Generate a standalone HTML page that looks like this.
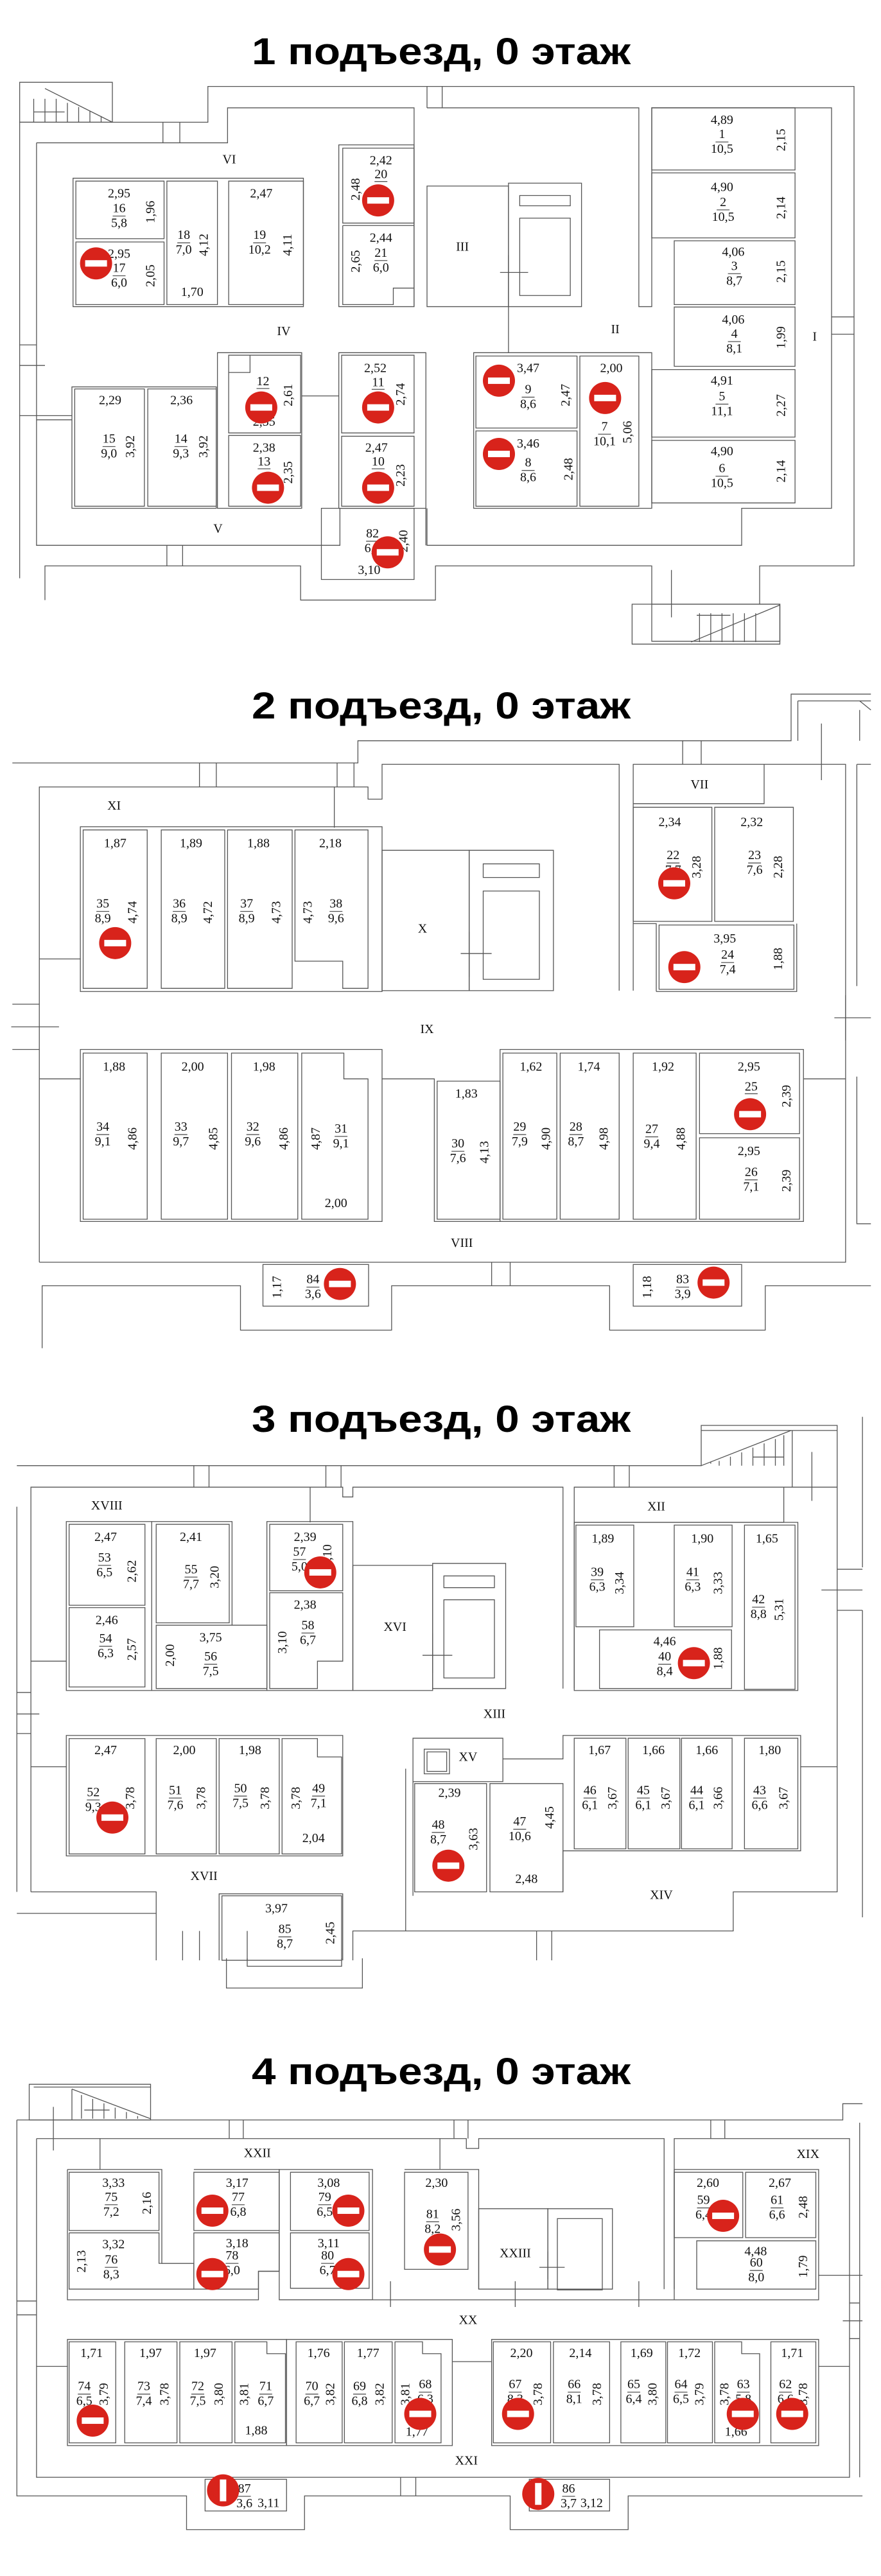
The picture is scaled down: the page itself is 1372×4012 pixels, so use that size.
<!DOCTYPE html>
<html><head><meta charset="utf-8">
<style>
html,body{margin:0;padding:0;background:#fff;}
svg{display:block;}
svg text{font-family:"Liberation Serif",serif;font-size:20px;text-anchor:middle;dominant-baseline:central;fill:#111;}
svg text.t{font-family:"Liberation Sans","DejaVu Sans",sans-serif;font-weight:bold;font-size:58px;dominant-baseline:auto;fill:#000;}
svg text.r{font-size:21px;}
path,rect,polyline{fill:none;stroke:#555;stroke-width:1.3;vector-effect:non-scaling-stroke;}
rect.wb{fill:#fff;stroke:none;}
circle.rd{fill:#d8231b;stroke:none;}
</style></head><body>
<svg width="1372" height="4012" viewBox="0 0 1372 4012" xmlns="http://www.w3.org/2000/svg">
<defs>
<g id="ns"><circle class="rd" r="25"/><rect class="wb" x="-17" y="-5" width="34" height="10"/></g>
</defs>

<text class="t" x="687" y="100" textLength="590" lengthAdjust="spacingAndGlyphs">1 подъезд, 0 этаж</text>
<text class="t" x="687" y="1119" textLength="590" lengthAdjust="spacingAndGlyphs">2 подъезд, 0 этаж</text>
<text class="t" x="687" y="2230" textLength="590" lengthAdjust="spacingAndGlyphs">3 подъезд, 0 этаж</text>
<text class="t" x="687" y="3246" textLength="590" lengthAdjust="spacingAndGlyphs">4 подъезд, 0 этаж</text>

<!-- SECTION 1 -->
<g transform="translate(0,0) scale(0.875,0.641)">
<path d="M35,297 H370 V210 H1520 V1375 H1352 V1468"/>
<path d="M35,297 V1405"/>
<path d="M80,1458 V1375 H535 V1458 H775 V1375 H1160 V1468"/>
<rect x="35" y="200" width="165" height="97"/>
<path d="M80,215 L200,297 M60,240 V297 M80,240 V297 M100,240 V297 M120,250 V297 M140,260 V297 M160,270 V297 M180,282 V297 M60,272 H115"/>
<rect x="1125" y="1468" width="263" height="97"/>
<rect x="1160" y="1468" width="228" height="90"/>
<path d="M1230,1560 L1388,1470 M1245,1490 V1560 M1265,1490 V1560 M1285,1490 V1560 M1305,1490 V1560 M1325,1490 V1560 M1345,1490 V1560 M1240,1495 H1300 M1195,1385 V1500"/>
<path d="M65,347 H405 V262 H737 V745"/>
<path d="M760,262 H1137 V745 H1160 V262 H1480 V1235 H1320 V1325 H760 V1235"/>
<path d="M605,1235 V1325 H65 V347"/>
<path d="M290,297 V347 M320,297 V347 M760,210 V262 M787,210 V262 M297,1325 V1375 M325,1325 V1375 M1480,770 H1520 M1480,812 H1520 M35,838 H65 M35,888 H80 M35,1010 H128 M65,1020 H128"/>
<rect x="130" y="433" width="410" height="312"/>
<rect x="135" y="440" width="157" height="140"/>
<rect x="135" y="588" width="157" height="152"/>
<rect x="297" y="440" width="90" height="300"/>
<rect x="407" y="440" width="133" height="300"/>
<rect x="603" y="352" width="134" height="393"/>
<rect x="610" y="360" width="127" height="182"/>
<path d="M610,548 H737 M610,548 V740 H700 V700 H737"/>
<rect x="760" y="452" width="145" height="293"/>
<rect x="905" y="445" width="130" height="300"/>
<rect x="925" y="475" width="90" height="25"/>
<rect x="925" y="530" width="90" height="188"/>
<path d="M890,662 H940 M905,620 V745 M905,745 V857"/>
<rect x="1160" y="262" width="255" height="151"/>
<rect x="1160" y="420" width="255" height="158"/>
<rect x="1200" y="585" width="215" height="155"/>
<rect x="1200" y="746" width="215" height="144"/>
<rect x="1160" y="898" width="255" height="164"/>
<rect x="1160" y="1070" width="255" height="152"/>
<rect x="843" y="857" width="317" height="378"/>
<rect x="847" y="865" width="180" height="175"/>
<rect x="847" y="1047" width="180" height="183"/>
<rect x="1032" y="865" width="105" height="365"/>
<rect x="128" y="940" width="257" height="295"/>
<rect x="133" y="945" width="124" height="285"/>
<rect x="263" y="945" width="122" height="285"/>
<rect x="387" y="857" width="150" height="378"/>
<rect x="407" y="863" width="128" height="189"/>
<rect x="407" y="1058" width="128" height="172"/>
<path d="M407,905 H445 V863"/>
<rect x="603" y="857" width="155" height="378"/>
<rect x="608" y="863" width="129" height="189"/>
<rect x="608" y="1060" width="129" height="170"/>
<path d="M537,962 H603 M758,1235 V1325"/>
<rect x="572" y="1235" width="165" height="173"/>

<text transform="translate(408,388) scale(1.143,1.56)">VI</text>
<text transform="translate(505,805) scale(1.143,1.56)">IV</text>
<text transform="translate(388,1285) scale(1.143,1.56)">V</text>
<text transform="translate(823,600) scale(1.143,1.56)">III</text>
<text transform="translate(1095,800) scale(1.143,1.56)">II</text>
<text transform="translate(1450,818) scale(1.143,1.56)">I</text>

<text transform="translate(212,470) scale(1.143,1.56)">2,95</text>
<g transform="translate(212,525) scale(1.143,1.56)"><text y="-12">16</text><path d="M-10,0H10"/><text y="11">5,8</text></g>
<text transform="translate(268,515) scale(1.143,1.56) rotate(-90)">1,96</text>
<text transform="translate(212,617) scale(1.143,1.56)">2,95</text>
<g transform="translate(212,670) scale(1.143,1.56)"><text y="-12">17</text><path d="M-10,0H10"/><text y="11">6,0</text></g>
<text transform="translate(268,670) scale(1.143,1.56) rotate(-90)">2,05</text>
<g transform="translate(327,590) scale(1.143,1.56)"><text y="-12">18</text><path d="M-10,0H10"/><text y="11">7,0</text></g>
<text transform="translate(363,595) scale(1.143,1.56) rotate(-90)">4,12</text>
<text transform="translate(342,710) scale(1.143,1.56)">1,70</text>
<text transform="translate(465,470) scale(1.143,1.56)">2,47</text>
<g transform="translate(462,590) scale(1.143,1.56)"><text y="-12">19</text><path d="M-10,0H10"/><text y="11">10,2</text></g>
<text transform="translate(512,595) scale(1.143,1.56) rotate(-90)">4,11</text>
<text transform="translate(678,390) scale(1.143,1.56)">2,42</text>
<g transform="translate(678,427) scale(1.143,1.56)"><text y="-2">20</text><path d="M-10,9H10"/></g>
<text transform="translate(633,460) scale(1.143,1.56) rotate(-90)">2,48</text>
<text transform="translate(678,578) scale(1.143,1.56)">2,44</text>
<g transform="translate(678,633) scale(1.143,1.56)"><text y="-12">21</text><path d="M-10,0H10"/><text y="11">6,0</text></g>
<text transform="translate(633,635) scale(1.143,1.56) rotate(-90)">2,65</text>

<text transform="translate(1285,292) scale(1.143,1.56)">4,89</text>
<g transform="translate(1285,345) scale(1.143,1.56)"><text y="-12">1</text><path d="M-10,0H10"/><text y="11">10,5</text></g>
<text transform="translate(1390,340) scale(1.143,1.56) rotate(-90)">2,15</text>
<text transform="translate(1285,455) scale(1.143,1.56)">4,90</text>
<g transform="translate(1287,510) scale(1.143,1.56)"><text y="-12">2</text><path d="M-10,0H10"/><text y="11">10,5</text></g>
<text transform="translate(1390,505) scale(1.143,1.56) rotate(-90)">2,14</text>
<text transform="translate(1305,612) scale(1.143,1.56)">4,06</text>
<g transform="translate(1307,665) scale(1.143,1.56)"><text y="-12">3</text><path d="M-10,0H10"/><text y="11">8,7</text></g>
<text transform="translate(1390,660) scale(1.143,1.56) rotate(-90)">2,15</text>
<text transform="translate(1305,777) scale(1.143,1.56)">4,06</text>
<g transform="translate(1307,830) scale(1.143,1.56)"><text y="-12">4</text><path d="M-10,0H10"/><text y="11">8,1</text></g>
<text transform="translate(1390,820) scale(1.143,1.56) rotate(-90)">1,99</text>
<text transform="translate(1285,925) scale(1.143,1.56)">4,91</text>
<g transform="translate(1285,982) scale(1.143,1.56)"><text y="-12">5</text><path d="M-10,0H10"/><text y="11">11,1</text></g>
<text transform="translate(1390,985) scale(1.143,1.56) rotate(-90)">2,27</text>
<text transform="translate(1285,1097) scale(1.143,1.56)">4,90</text>
<g transform="translate(1285,1157) scale(1.143,1.56)"><text y="-12">6</text><path d="M-10,0H10"/><text y="11">10,5</text></g>
<text transform="translate(1390,1145) scale(1.143,1.56) rotate(-90)">2,14</text>

<text transform="translate(940,895) scale(1.143,1.56)">3,47</text>
<g transform="translate(940,965) scale(1.143,1.56)"><text y="-12">9</text><path d="M-10,0H10"/><text y="11">8,6</text></g>
<text transform="translate(1007,960) scale(1.143,1.56) rotate(-90)">2,47</text>
<text transform="translate(940,1078) scale(1.143,1.56)">3,46</text>
<g transform="translate(940,1143) scale(1.143,1.56)"><text y="-12">8</text><path d="M-10,0H10"/><text y="11">8,6</text></g>
<text transform="translate(1012,1140) scale(1.143,1.56) rotate(-90)">2,48</text>
<text transform="translate(1088,895) scale(1.143,1.56)">2,00</text>
<g transform="translate(1076,1055) scale(1.143,1.56)"><text y="-12">7</text><path d="M-10,0H10"/><text y="11">10,1</text></g>
<text transform="translate(1117,1050) scale(1.143,1.56) rotate(-90)">5,06</text>

<text transform="translate(196,973) scale(1.143,1.56)">2,29</text>
<g transform="translate(194,1085) scale(1.143,1.56)"><text y="-12">15</text><path d="M-10,0H10"/><text y="11">9,0</text></g>
<text transform="translate(232,1085) scale(1.143,1.56) rotate(-90)">3,92</text>
<text transform="translate(323,973) scale(1.143,1.56)">2,36</text>
<g transform="translate(322,1085) scale(1.143,1.56)"><text y="-12">14</text><path d="M-10,0H10"/><text y="11">9,3</text></g>
<text transform="translate(362,1085) scale(1.143,1.56) rotate(-90)">3,92</text>
<g transform="translate(468,930) scale(1.143,1.56)"><text y="-2">12</text><path d="M-10,9H10"/></g>
<text transform="translate(513,960) scale(1.143,1.56) rotate(-90)">2,61</text>
<text transform="translate(470,1025) scale(1.143,1.56)">2,35</text>
<text transform="translate(470,1088) scale(1.143,1.56)">2,38</text>
<g transform="translate(470,1125) scale(1.143,1.56)"><text y="-2">13</text><path d="M-10,9H10"/></g>
<text transform="translate(513,1148) scale(1.143,1.56) rotate(-90)">2,35</text>
<text transform="translate(668,895) scale(1.143,1.56)">2,52</text>
<g transform="translate(673,932) scale(1.143,1.56)"><text y="-2">11</text><path d="M-10,9H10"/></g>
<text transform="translate(713,958) scale(1.143,1.56) rotate(-90)">2,74</text>
<text transform="translate(670,1088) scale(1.143,1.56)">2,47</text>
<g transform="translate(673,1125) scale(1.143,1.56)"><text y="-2">10</text><path d="M-10,9H10"/></g>
<text transform="translate(713,1155) scale(1.143,1.56) rotate(-90)">2,23</text>
<g transform="translate(663,1315) scale(1.143,1.56)"><text y="-12">82</text><path d="M-10,0H10"/><text y="11">6,0</text></g>
<text transform="translate(657,1385) scale(1.143,1.56)">3,10</text>
<text transform="translate(718,1315) scale(1.143,1.56) rotate(-90)">2,40</text>

<use href="#ns" transform="translate(673,487) scale(1.143,1.56)"/>
<use href="#ns" transform="translate(171,640) scale(1.143,1.56)"/>
<use href="#ns" transform="translate(465,990) scale(1.143,1.56)"/>
<use href="#ns" transform="translate(673,990) scale(1.143,1.56)"/>
<use href="#ns" transform="translate(477,1185) scale(1.143,1.56)"/>
<use href="#ns" transform="translate(673,1185) scale(1.143,1.56)"/>
<use href="#ns" transform="translate(888,925) scale(1.143,1.56)"/>
<use href="#ns" transform="translate(888,1103) scale(1.143,1.56)"/>
<use href="#ns" transform="translate(1077,967) scale(1.143,1.56)"/>
<use href="#ns" transform="translate(690,1342) scale(1.143,1.56)"/>
</g>

<!-- SECTION 2 -->
<g transform="translate(0,1000) scale(0.875,0.705)">
<path d="M22,267 H637 V218 H1408 V115 H1550"/>
<path d="M1420,130 H1550 M1420,130 V218 M1530,130 L1550,150 M1530,150 V218 M1462,180 V305"/>
<path d="M70,1370 V320 H655 V347 H680 V270 H1102 V770"/>
<path d="M1127,770 V270 H1505 V1370 H70"/>
<path d="M1525,270 V760 M1525,960 V1285 H1550 M1525,270 H1550"/>
<path d="M75,1560 V1422 H428 V1520 H697 V1422 H1085 V1520 H1362 V1422 H1550"/>
<path d="M595,320 V410 M355,267 V320 M385,267 V320 M600,267 V320 M630,267 V320 M1215,218 V270 M1248,218 V270 M875,1370 V1422 M908,1370 V1422 M22,800 H70 M22,900 H70 M20,850 H105 M70,700 H143 M70,965 H143 M1505,780 V880 M1485,830 H1550 M1430,965 H1505"/>
<path d="M1127,357 H1360 V270 M1360,290 V357"/>
<rect x="143" y="408" width="537" height="364"/>
<rect x="148" y="415" width="114" height="350"/>
<rect x="287" y="415" width="113" height="350"/>
<rect x="405" y="415" width="115" height="350"/>
<path d="M525,415 H655 V765 H610 V705 H525 Z"/>
<rect x="680" y="460" width="155" height="310"/>
<rect x="835" y="460" width="150" height="310"/>
<rect x="860" y="490" width="100" height="30"/>
<rect x="860" y="550" width="100" height="195"/>
<path d="M820,688 H875 M835,640 V740"/>
<rect x="1127" y="365" width="140" height="252"/>
<rect x="1272" y="365" width="140" height="252"/>
<path d="M1127,622 H1168 V772 M1168,772 H1418 V622"/>
<rect x="1173" y="625" width="240" height="142"/>
<rect x="143" y="900" width="537" height="380"/>
<rect x="148" y="908" width="114" height="367"/>
<rect x="287" y="908" width="118" height="367"/>
<rect x="412" y="908" width="118" height="367"/>
<path d="M537,908 H612 V965 H655 V1275 H537 Z"/>
<path d="M680,965 H773 V1280 H890 V900 H1430 V1280 H890"/>
<rect x="778" y="970" width="112" height="305"/>
<rect x="895" y="908" width="96" height="367"/>
<rect x="997" y="908" width="105" height="367"/>
<rect x="1127" y="908" width="112" height="367"/>
<rect x="1245" y="908" width="178" height="178"/>
<rect x="1245" y="1095" width="178" height="180"/>
<rect x="468" y="1375" width="188" height="92"/>
<rect x="1127" y="1375" width="193" height="92"/>

<text transform="translate(203,362) scale(1.143,1.418)">XI</text>
<text transform="translate(752,633) scale(1.143,1.418)">X</text>
<text transform="translate(1245,315) scale(1.143,1.418)">VII</text>
<text transform="translate(760,855) scale(1.143,1.418)">IX</text>
<text transform="translate(822,1328) scale(1.143,1.418)">VIII</text>

<text transform="translate(205,445) scale(1.143,1.418)">1,87</text>
<g transform="translate(183,595) scale(1.143,1.418)"><text y="-12">35</text><path d="M-10,0H10"/><text y="11">8,9</text></g>
<text transform="translate(236,597) scale(1.143,1.418) rotate(-90)">4,74</text>
<text transform="translate(340,445) scale(1.143,1.418)">1,89</text>
<g transform="translate(319,595) scale(1.143,1.418)"><text y="-12">36</text><path d="M-10,0H10"/><text y="11">8,9</text></g>
<text transform="translate(370,597) scale(1.143,1.418) rotate(-90)">4,72</text>
<text transform="translate(460,445) scale(1.143,1.418)">1,88</text>
<g transform="translate(439,595) scale(1.143,1.418)"><text y="-12">37</text><path d="M-10,0H10"/><text y="11">8,9</text></g>
<text transform="translate(492,597) scale(1.143,1.418) rotate(-90)">4,73</text>
<text transform="translate(588,445) scale(1.143,1.418)">2,18</text>
<text transform="translate(548,597) scale(1.143,1.418) rotate(-90)">4,73</text>
<g transform="translate(598,595) scale(1.143,1.418)"><text y="-12">38</text><path d="M-10,0H10"/><text y="11">9,6</text></g>
<text transform="translate(1192,398) scale(1.143,1.418)">2,34</text>
<g transform="translate(1198,488) scale(1.143,1.418)"><text y="-12">22</text><path d="M-10,0H10"/><text y="11">7,7</text></g>
<text transform="translate(1240,497) scale(1.143,1.418) rotate(-90)">3,28</text>
<text transform="translate(1338,398) scale(1.143,1.418)">2,32</text>
<g transform="translate(1343,488) scale(1.143,1.418)"><text y="-12">23</text><path d="M-10,0H10"/><text y="11">7,6</text></g>
<text transform="translate(1385,497) scale(1.143,1.418) rotate(-90)">2,28</text>
<text transform="translate(1290,655) scale(1.143,1.418)">3,95</text>
<g transform="translate(1295,708) scale(1.143,1.418)"><text y="-12">24</text><path d="M-10,0H10"/><text y="11">7,4</text></g>
<text transform="translate(1385,700) scale(1.143,1.418) rotate(-90)">1,88</text>

<text transform="translate(203,938) scale(1.143,1.418)">1,88</text>
<g transform="translate(183,1088) scale(1.143,1.418)"><text y="-12">34</text><path d="M-10,0H10"/><text y="11">9,1</text></g>
<text transform="translate(236,1097) scale(1.143,1.418) rotate(-90)">4,86</text>
<text transform="translate(343,938) scale(1.143,1.418)">2,00</text>
<g transform="translate(322,1088) scale(1.143,1.418)"><text y="-12">33</text><path d="M-10,0H10"/><text y="11">9,7</text></g>
<text transform="translate(380,1097) scale(1.143,1.418) rotate(-90)">4,85</text>
<text transform="translate(470,938) scale(1.143,1.418)">1,98</text>
<g transform="translate(450,1088) scale(1.143,1.418)"><text y="-12">32</text><path d="M-10,0H10"/><text y="11">9,6</text></g>
<text transform="translate(505,1097) scale(1.143,1.418) rotate(-90)">4,86</text>
<text transform="translate(562,1097) scale(1.143,1.418) rotate(-90)">4,87</text>
<g transform="translate(607,1092) scale(1.143,1.418)"><text y="-12">31</text><path d="M-10,0H10"/><text y="11">9,1</text></g>
<text transform="translate(598,1240) scale(1.143,1.418)">2,00</text>
<text transform="translate(830,998) scale(1.143,1.418)">1,83</text>
<g transform="translate(815,1125) scale(1.143,1.418)"><text y="-12">30</text><path d="M-10,0H10"/><text y="11">7,6</text></g>
<text transform="translate(862,1127) scale(1.143,1.418) rotate(-90)">4,13</text>
<text transform="translate(945,938) scale(1.143,1.418)">1,62</text>
<g transform="translate(925,1088) scale(1.143,1.418)"><text y="-12">29</text><path d="M-10,0H10"/><text y="11">7,9</text></g>
<text transform="translate(972,1097) scale(1.143,1.418) rotate(-90)">4,90</text>
<text transform="translate(1048,938) scale(1.143,1.418)">1,74</text>
<g transform="translate(1025,1088) scale(1.143,1.418)"><text y="-12">28</text><path d="M-10,0H10"/><text y="11">8,7</text></g>
<text transform="translate(1075,1097) scale(1.143,1.418) rotate(-90)">4,98</text>
<text transform="translate(1180,938) scale(1.143,1.418)">1,92</text>
<g transform="translate(1160,1093) scale(1.143,1.418)"><text y="-12">27</text><path d="M-10,0H10"/><text y="11">9,4</text></g>
<text transform="translate(1212,1097) scale(1.143,1.418) rotate(-90)">4,88</text>
<text transform="translate(1333,938) scale(1.143,1.418)">2,95</text>
<g transform="translate(1337,985) scale(1.143,1.418)"><text y="-2">25</text><path d="M-10,9H10"/></g>
<text transform="translate(1400,1003) scale(1.143,1.418) rotate(-90)">2,39</text>
<text transform="translate(1333,1125) scale(1.143,1.418)">2,95</text>
<g transform="translate(1337,1188) scale(1.143,1.418)"><text y="-12">26</text><path d="M-10,0H10"/><text y="11">7,1</text></g>
<text transform="translate(1400,1190) scale(1.143,1.418) rotate(-90)">2,39</text>
<text transform="translate(493,1425) scale(1.143,1.418) rotate(-90)">1,17</text>
<g transform="translate(557,1425) scale(1.143,1.418)"><text y="-12">84</text><path d="M-10,0H10"/><text y="11">3,6</text></g>
<text transform="translate(1152,1425) scale(1.143,1.418) rotate(-90)">1,18</text>
<g transform="translate(1215,1425) scale(1.143,1.418)"><text y="-12">83</text><path d="M-10,0H10"/><text y="11">3,9</text></g>

<use href="#ns" transform="translate(205,665) scale(1.143,1.418)"/>
<use href="#ns" transform="translate(1200,533) scale(1.143,1.418)"/>
<use href="#ns" transform="translate(1218,718) scale(1.143,1.418)"/>
<use href="#ns" transform="translate(1335,1043) scale(1.143,1.418)"/>
<use href="#ns" transform="translate(605,1418) scale(1.143,1.418)"/>
<use href="#ns" transform="translate(1270,1415) scale(1.143,1.418)"/>
</g>

<!-- SECTION 3 -->
<g transform="translate(0,2100) scale(0.875,0.609)">
<path d="M30,300 H1248 V197 H1490 V355"/>
<path d="M1248,210 H1490 M1248,300 L1408,210 M1265,295 V290 M1280,288 V300 M1300,277 V300 M1320,266 V300 M1340,254 V300 M1360,243 V300 M1380,232 V300 M1395,222 V300 M1340,278 H1395 M1445,265 V390 M1410,210 V355"/>
<path d="M1535,175 V560 M1535,670 V1455 M1490,565 H1535 M1490,670 H1535 M1462,618 H1535"/>
<path d="M55,1390 V355 H552 V445 M552,355 H610 V380 H628 V355 H1002 V870"/>
<path d="M1022,870 V355 H1490 V1390 H1305 V1490 H628 V1565"/>
<path d="M55,1390 H278 V1565 M390,1565 V1395 H610 V1565 M30,1445 H278 M30,405 V1390 M440,1490 V1565"/>
<path d="M345,300 V355 M372,300 V355 M580,300 V355 M607,300 V355 M1093,300 V355 M1120,300 V355 M30,880 H55 M30,985 H55 M30,935 H70 M55,800 H118 M55,1070 H118 M1425,1070 H1490 M1395,355 V445 M1022,445 H1395 M325,1490 V1565 M355,1490 V1565 M955,1490 V1565 M982,1490 V1565"/>
<rect x="118" y="443" width="152" height="432"/>
<rect x="123" y="450" width="135" height="207"/>
<rect x="123" y="663" width="135" height="203"/>
<path d="M270,443 H413 V708 M270,875 H475 V443 H628 V875 H475"/>
<rect x="278" y="450" width="130" height="252"/>
<rect x="278" y="708" width="197" height="162"/>
<rect x="480" y="450" width="130" height="170"/>
<path d="M480,625 H610 V800 H565 V870 H480 Z"/>
<rect x="628" y="555" width="142" height="320"/>
<rect x="770" y="550" width="130" height="320"/>
<rect x="790" y="582" width="90" height="30"/>
<rect x="790" y="643" width="90" height="200"/>
<path d="M752,785 H805 M770,730 V830"/>
<rect x="1022" y="445" width="398" height="430"/>
<rect x="1025" y="452" width="103" height="260"/>
<rect x="1200" y="452" width="103" height="260"/>
<rect x="1325" y="452" width="90" height="420"/>
<rect x="1067" y="720" width="235" height="150"/>
<rect x="118" y="990" width="492" height="308"/>
<rect x="123" y="998" width="135" height="295"/>
<rect x="278" y="998" width="107" height="295"/>
<rect x="390" y="998" width="107" height="295"/>
<path d="M502,998 H565 V1045 H608 V1293 H502 Z"/>
<rect x="735" y="997" width="160" height="111"/>
<rect x="755" y="1025" width="45" height="63"/>
<rect x="760" y="1032" width="35" height="50"/>
<rect x="738" y="1113" width="128" height="277"/>
<rect x="872" y="1113" width="130" height="277"/>
<path d="M895,1050 H1002 V990 H1425 V1285 H1002 V1390 M722,1075 V1490 M735,1108 V1400"/>
<rect x="1022" y="997" width="92" height="283"/>
<rect x="1118" y="997" width="92" height="283"/>
<rect x="1213" y="997" width="90" height="283"/>
<rect x="1325" y="997" width="95" height="283"/>
<rect x="395" y="1400" width="213" height="165"/>

<text transform="translate(190,402) scale(1.143,1.642)">XVIII</text>
<text transform="translate(1168,405) scale(1.143,1.642)">XII</text>
<text transform="translate(703,713) scale(1.143,1.642)">XVI</text>
<text transform="translate(880,935) scale(1.143,1.642)">XIII</text>
<text transform="translate(833,1045) scale(1.143,1.642)">XV</text>
<text transform="translate(363,1350) scale(1.143,1.642)">XVII</text>
<text transform="translate(1177,1398) scale(1.143,1.642)">XIV</text>

<text transform="translate(188,483) scale(1.143,1.642)">2,47</text>
<g transform="translate(186,555) scale(1.143,1.642)"><text y="-12">53</text><path d="M-10,0H10"/><text y="11">6,5</text></g>
<text transform="translate(235,570) scale(1.143,1.642) rotate(-90)">2,62</text>
<text transform="translate(340,483) scale(1.143,1.642)">2,41</text>
<g transform="translate(340,585) scale(1.143,1.642)"><text y="-12">55</text><path d="M-10,0H10"/><text y="11">7,7</text></g>
<text transform="translate(382,585) scale(1.143,1.642) rotate(-90)">3,20</text>
<text transform="translate(543,483) scale(1.143,1.642)">2,39</text>
<g transform="translate(533,540) scale(1.143,1.642)"><text y="-12">57</text><path d="M-10,0H10"/><text y="11">5,0</text></g>
<text transform="translate(583,530) scale(1.143,1.642) rotate(-90)">3,10</text>
<text transform="translate(190,695) scale(1.143,1.642)">2,46</text>
<g transform="translate(188,762) scale(1.143,1.642)"><text y="-12">54</text><path d="M-10,0H10"/><text y="11">6,3</text></g>
<text transform="translate(235,770) scale(1.143,1.642) rotate(-90)">2,57</text>
<text transform="translate(375,740) scale(1.143,1.642)">3,75</text>
<g transform="translate(375,808) scale(1.143,1.642)"><text y="-12">56</text><path d="M-10,0H10"/><text y="11">7,5</text></g>
<text transform="translate(303,785) scale(1.143,1.642) rotate(-90)">2,00</text>
<text transform="translate(543,656) scale(1.143,1.642)">2,38</text>
<g transform="translate(548,728) scale(1.143,1.642)"><text y="-12">58</text><path d="M-10,0H10"/><text y="11">6,7</text></g>
<text transform="translate(503,752) scale(1.143,1.642) rotate(-90)">3,10</text>
<text transform="translate(1073,487) scale(1.143,1.642)">1,89</text>
<g transform="translate(1063,592) scale(1.143,1.642)"><text y="-12">39</text><path d="M-10,0H10"/><text y="11">6,3</text></g>
<text transform="translate(1103,600) scale(1.143,1.642) rotate(-90)">3,34</text>
<text transform="translate(1250,487) scale(1.143,1.642)">1,90</text>
<g transform="translate(1233,592) scale(1.143,1.642)"><text y="-12">41</text><path d="M-10,0H10"/><text y="11">6,3</text></g>
<text transform="translate(1278,600) scale(1.143,1.642) rotate(-90)">3,33</text>
<text transform="translate(1365,487) scale(1.143,1.642)">1,65</text>
<g transform="translate(1350,662) scale(1.143,1.642)"><text y="-12">42</text><path d="M-10,0H10"/><text y="11">8,8</text></g>
<text transform="translate(1387,668) scale(1.143,1.642) rotate(-90)">5,31</text>
<text transform="translate(1183,750) scale(1.143,1.642)">4,46</text>
<g transform="translate(1183,808) scale(1.143,1.642)"><text y="-12">40</text><path d="M-10,0H10"/><text y="11">8,4</text></g>
<text transform="translate(1278,793) scale(1.143,1.642) rotate(-90)">1,88</text>

<text transform="translate(188,1028) scale(1.143,1.642)">2,47</text>
<g transform="translate(166,1155) scale(1.143,1.642)"><text y="-12">52</text><path d="M-10,0H10"/><text y="11">9,3</text></g>
<text transform="translate(232,1150) scale(1.143,1.642) rotate(-90)">3,78</text>
<text transform="translate(328,1028) scale(1.143,1.642)">2,00</text>
<g transform="translate(312,1150) scale(1.143,1.642)"><text y="-12">51</text><path d="M-10,0H10"/><text y="11">7,6</text></g>
<text transform="translate(358,1150) scale(1.143,1.642) rotate(-90)">3,78</text>
<text transform="translate(445,1028) scale(1.143,1.642)">1,98</text>
<g transform="translate(428,1145) scale(1.143,1.642)"><text y="-12">50</text><path d="M-10,0H10"/><text y="11">7,5</text></g>
<text transform="translate(472,1150) scale(1.143,1.642) rotate(-90)">3,78</text>
<text transform="translate(527,1150) scale(1.143,1.642) rotate(-90)">3,78</text>
<g transform="translate(567,1145) scale(1.143,1.642)"><text y="-12">49</text><path d="M-10,0H10"/><text y="11">7,1</text></g>
<text transform="translate(558,1253) scale(1.143,1.642)">2,04</text>
<text transform="translate(800,1137) scale(1.143,1.642)">2,39</text>
<g transform="translate(780,1238) scale(1.143,1.642)"><text y="-12">48</text><path d="M-10,0H10"/><text y="11">8,7</text></g>
<text transform="translate(843,1255) scale(1.143,1.642) rotate(-90)">3,63</text>
<g transform="translate(925,1230) scale(1.143,1.642)"><text y="-12">47</text><path d="M-10,0H10"/><text y="11">10,6</text></g>
<text transform="translate(978,1200) scale(1.143,1.642) rotate(-90)">4,45</text>
<text transform="translate(937,1357) scale(1.143,1.642)">2,48</text>
<text transform="translate(1067,1028) scale(1.143,1.642)">1,67</text>
<g transform="translate(1050,1150) scale(1.143,1.642)"><text y="-12">46</text><path d="M-10,0H10"/><text y="11">6,1</text></g>
<text transform="translate(1090,1150) scale(1.143,1.642) rotate(-90)">3,67</text>
<text transform="translate(1163,1028) scale(1.143,1.642)">1,66</text>
<g transform="translate(1145,1150) scale(1.143,1.642)"><text y="-12">45</text><path d="M-10,0H10"/><text y="11">6,1</text></g>
<text transform="translate(1185,1150) scale(1.143,1.642) rotate(-90)">3,67</text>
<text transform="translate(1258,1028) scale(1.143,1.642)">1,66</text>
<g transform="translate(1240,1150) scale(1.143,1.642)"><text y="-12">44</text><path d="M-10,0H10"/><text y="11">6,1</text></g>
<text transform="translate(1278,1150) scale(1.143,1.642) rotate(-90)">3,66</text>
<text transform="translate(1370,1028) scale(1.143,1.642)">1,80</text>
<g transform="translate(1352,1150) scale(1.143,1.642)"><text y="-12">43</text><path d="M-10,0H10"/><text y="11">6,6</text></g>
<text transform="translate(1395,1150) scale(1.143,1.642) rotate(-90)">3,67</text>
<text transform="translate(492,1433) scale(1.143,1.642)">3,97</text>
<g transform="translate(507,1505) scale(1.143,1.642)"><text y="-12">85</text><path d="M-10,0H10"/><text y="11">8,7</text></g>
<text transform="translate(588,1495) scale(1.143,1.642) rotate(-90)">2,45</text>

<use href="#ns" transform="translate(570,573) scale(1.143,1.642)"/>
<use href="#ns" transform="translate(1235,805) scale(1.143,1.642)"/>
<use href="#ns" transform="translate(200,1200) scale(1.143,1.642)"/>
<use href="#ns" transform="translate(798,1323) scale(1.143,1.642)"/>
</g>

<!-- SECTION 4 -->
<g transform="translate(0,3050) scale(0.875,0.617)">
<path d="M403,0 V75 H645 V0 M440,0 V20 H608 V0"/>
<rect x="52" y="318" width="216" height="90"/>
<path d="M60,325 H268 M128,330 L268,405 M128,330 V408 M145,345 V405 M165,355 V405 M185,366 V405 M205,377 V405 M225,388 V405 M245,398 V405 M150,383 H195 M95,375 V485"/>
<path d="M30,408 H1500 V367 H1535"/>
<path d="M30,408 V1357 H332 V1442 H542 V1357 H908 V1442 H1118 V1357 H1535"/>
<path d="M65,455 H783 V532 M783,455 H830 V480 H852 V455 H1182 V835 M1200,835 V455 H1512 V1310 H65 V455"/>
<path d="M1530,415 V1310 M1512,870 H1530 M1512,960 H1530 M1500,915 H1535 M30,865 H65 M30,900 H65 M408,408 V455 M433,408 V455 M808,408 V455 M833,408 V455 M1265,408 V455 M1290,408 V455 M713,1310 V1357 M740,1310 V1357 M178,455 V533 M65,1030 H120 M1457,1030 H1512 M1457,800 H1535"/>
<path d="M120,533 H288 V770 H345 V835 M120,533 V862 H460 V790 H497 V533 H345"/>
<rect x="123" y="540" width="160" height="147"/>
<path d="M123,693 H283 V770 H345 M123,693 V835 H345"/>
<rect x="345" y="540" width="152" height="147"/>
<path d="M345,693 H497 V790 H460 V835 H345 Z"/>
<rect x="497" y="533" width="166" height="329"/>
<rect x="517" y="540" width="140" height="147"/>
<rect x="517" y="693" width="140" height="140"/>
<rect x="720" y="540" width="113" height="245"/>
<path d="M720,533 H852 V835 M497,862 H1200"/>
<rect x="852" y="632" width="123" height="203"/>
<rect x="975" y="632" width="115" height="203"/>
<rect x="992" y="657" width="80" height="180"/>
<path d="M960,780 H1005 M975,740 V810 M695,815 V880 M917,815 V880 M1137,815 V880"/>
<rect x="1200" y="533" width="257" height="329"/>
<rect x="1200" y="540" width="122" height="165"/>
<rect x="1327" y="540" width="125" height="165"/>
<rect x="1240" y="713" width="212" height="122"/>
<rect x="120" y="962" width="390" height="268"/>
<rect x="123" y="968" width="83" height="255"/>
<rect x="222" y="968" width="93" height="255"/>
<rect x="320" y="968" width="93" height="255"/>
<path d="M418,968 H475 V998 H508 V1223 H418 Z"/>
<rect x="510" y="962" width="295" height="268"/>
<rect x="527" y="968" width="82" height="255"/>
<rect x="613" y="968" width="85" height="255"/>
<path d="M703,968 H752 V998 H785 V1223 H703 Z"/>
<path d="M805,1018 H875"/>
<rect x="875" y="962" width="582" height="268"/>
<rect x="878" y="968" width="102" height="255"/>
<rect x="985" y="968" width="100" height="255"/>
<rect x="1105" y="968" width="80" height="255"/>
<rect x="1188" y="968" width="80" height="255"/>
<path d="M1272,968 H1320 V998 H1352 V1223 H1272 Z"/>
<rect x="1372" y="968" width="80" height="255"/>
<rect x="365" y="1315" width="145" height="80"/>
<rect x="942" y="1315" width="143" height="80"/>

<text transform="translate(458,492) scale(1.143,1.621)">XXII</text>
<text transform="translate(1438,494) scale(1.143,1.621)">XIX</text>
<text transform="translate(917,745) scale(1.143,1.621)">XXIII</text>
<text transform="translate(833,913) scale(1.143,1.621)">XX</text>
<text transform="translate(830,1268) scale(1.143,1.621)">XXI</text>

<text transform="translate(202,567) scale(1.143,1.621)">3,33</text>
<g transform="translate(198,622) scale(1.143,1.621)"><text y="-12">75</text><path d="M-10,0H10"/><text y="11">7,2</text></g>
<text transform="translate(262,618) scale(1.143,1.621) rotate(-90)">2,16</text>
<text transform="translate(202,722) scale(1.143,1.621)">3,32</text>
<g transform="translate(198,780) scale(1.143,1.621)"><text y="-12">76</text><path d="M-10,0H10"/><text y="11">8,3</text></g>
<text transform="translate(145,765) scale(1.143,1.621) rotate(-90)">2,13</text>
<text transform="translate(422,567) scale(1.143,1.621)">3,17</text>
<g transform="translate(424,622) scale(1.143,1.621)"><text y="-12">77</text><path d="M-10,0H10"/><text y="11">6,8</text></g>
<text transform="translate(422,720) scale(1.143,1.621)">3,18</text>
<g transform="translate(413,770) scale(1.143,1.621)"><text y="-12">78</text><path d="M-10,0H10"/><text y="11">6,0</text></g>
<text transform="translate(585,567) scale(1.143,1.621)">3,08</text>
<g transform="translate(578,622) scale(1.143,1.621)"><text y="-12">79</text><path d="M-10,0H10"/><text y="11">6,5</text></g>
<text transform="translate(585,720) scale(1.143,1.621)">3,11</text>
<g transform="translate(583,770) scale(1.143,1.621)"><text y="-12">80</text><path d="M-10,0H10"/><text y="11">6,7</text></g>
<text transform="translate(777,567) scale(1.143,1.621)">2,30</text>
<g transform="translate(770,665) scale(1.143,1.621)"><text y="-12">81</text><path d="M-10,0H10"/><text y="11">8,2</text></g>
<text transform="translate(812,660) scale(1.143,1.621) rotate(-90)">3,56</text>
<text transform="translate(1260,567) scale(1.143,1.621)">2,60</text>
<g transform="translate(1252,630) scale(1.143,1.621)"><text y="-12">59</text><path d="M-10,0H10"/><text y="11">6,4</text></g>
<text transform="translate(1388,567) scale(1.143,1.621)">2,67</text>
<g transform="translate(1383,630) scale(1.143,1.621)"><text y="-12">61</text><path d="M-10,0H10"/><text y="11">6,6</text></g>
<text transform="translate(1430,628) scale(1.143,1.621) rotate(-90)">2,48</text>
<text transform="translate(1345,740) scale(1.143,1.621)">4,48</text>
<g transform="translate(1346,788) scale(1.143,1.621)"><text y="-12">60</text><path d="M-10,0H10"/><text y="11">8,0</text></g>
<text transform="translate(1430,778) scale(1.143,1.621) rotate(-90)">1,79</text>

<text transform="translate(163,997) scale(1.143,1.621)">1,71</text>
<g transform="translate(150,1100) scale(1.143,1.621)"><text y="-12">74</text><path d="M-10,0H10"/><text y="11">6,5</text></g>
<text transform="translate(185,1100) scale(1.143,1.621) rotate(-90)">3,79</text>
<text transform="translate(268,997) scale(1.143,1.621)">1,97</text>
<g transform="translate(256,1100) scale(1.143,1.621)"><text y="-12">73</text><path d="M-10,0H10"/><text y="11">7,4</text></g>
<text transform="translate(293,1100) scale(1.143,1.621) rotate(-90)">3,78</text>
<text transform="translate(365,997) scale(1.143,1.621)">1,97</text>
<g transform="translate(352,1100) scale(1.143,1.621)"><text y="-12">72</text><path d="M-10,0H10"/><text y="11">7,5</text></g>
<text transform="translate(390,1100) scale(1.143,1.621) rotate(-90)">3,80</text>
<text transform="translate(435,1100) scale(1.143,1.621) rotate(-90)">3,81</text>
<g transform="translate(473,1100) scale(1.143,1.621)"><text y="-12">71</text><path d="M-10,0H10"/><text y="11">6,7</text></g>
<text transform="translate(456,1192) scale(1.143,1.621)">1,88</text>
<text transform="translate(567,997) scale(1.143,1.621)">1,76</text>
<g transform="translate(555,1100) scale(1.143,1.621)"><text y="-12">70</text><path d="M-10,0H10"/><text y="11">6,7</text></g>
<text transform="translate(588,1100) scale(1.143,1.621) rotate(-90)">3,82</text>
<text transform="translate(655,997) scale(1.143,1.621)">1,77</text>
<g transform="translate(640,1100) scale(1.143,1.621)"><text y="-12">69</text><path d="M-10,0H10"/><text y="11">6,8</text></g>
<text transform="translate(676,1100) scale(1.143,1.621) rotate(-90)">3,82</text>
<text transform="translate(722,1100) scale(1.143,1.621) rotate(-90)">3,81</text>
<g transform="translate(757,1095) scale(1.143,1.621)"><text y="-12">68</text><path d="M-10,0H10"/><text y="11">6,3</text></g>
<text transform="translate(742,1195) scale(1.143,1.621)">1,77</text>
<text transform="translate(928,997) scale(1.143,1.621)">2,20</text>
<g transform="translate(917,1095) scale(1.143,1.621)"><text y="-12">67</text><path d="M-10,0H10"/><text y="11">8,3</text></g>
<text transform="translate(958,1100) scale(1.143,1.621) rotate(-90)">3,78</text>
<text transform="translate(1033,997) scale(1.143,1.621)">2,14</text>
<g transform="translate(1022,1095) scale(1.143,1.621)"><text y="-12">66</text><path d="M-10,0H10"/><text y="11">8,1</text></g>
<text transform="translate(1063,1100) scale(1.143,1.621) rotate(-90)">3,78</text>
<text transform="translate(1142,997) scale(1.143,1.621)">1,69</text>
<g transform="translate(1128,1095) scale(1.143,1.621)"><text y="-12">65</text><path d="M-10,0H10"/><text y="11">6,4</text></g>
<text transform="translate(1162,1100) scale(1.143,1.621) rotate(-90)">3,80</text>
<text transform="translate(1227,997) scale(1.143,1.621)">1,72</text>
<g transform="translate(1212,1095) scale(1.143,1.621)"><text y="-12">64</text><path d="M-10,0H10"/><text y="11">6,5</text></g>
<text transform="translate(1245,1100) scale(1.143,1.621) rotate(-90)">3,79</text>
<text transform="translate(1290,1100) scale(1.143,1.621) rotate(-90)">3,78</text>
<g transform="translate(1323,1095) scale(1.143,1.621)"><text y="-12">63</text><path d="M-10,0H10"/><text y="11">5,8</text></g>
<text transform="translate(1310,1195) scale(1.143,1.621)">1,66</text>
<text transform="translate(1410,997) scale(1.143,1.621)">1,71</text>
<g transform="translate(1398,1095) scale(1.143,1.621)"><text y="-12">62</text><path d="M-10,0H10"/><text y="11">6,6</text></g>
<text transform="translate(1430,1100) scale(1.143,1.621) rotate(-90)">3,78</text>
<g transform="translate(435,1358) scale(1.143,1.621)"><text y="-12">87</text><path d="M-10,0H10"/><text y="11">3,6</text></g>
<text transform="translate(478,1375) scale(1.143,1.621)">3,11</text>
<g transform="translate(1012,1358) scale(1.143,1.621)"><text y="-12">86</text><path d="M-10,0H10"/><text y="11">3,7</text></g>
<text transform="translate(1053,1375) scale(1.143,1.621)">3,12</text>

<use href="#ns" transform="translate(378,637) scale(1.143,1.621)"/>
<use href="#ns" transform="translate(620,637) scale(1.143,1.621)"/>
<use href="#ns" transform="translate(1287,650) scale(1.143,1.621)"/>
<use href="#ns" transform="translate(378,797) scale(1.143,1.621)"/>
<use href="#ns" transform="translate(620,797) scale(1.143,1.621)"/>
<use href="#ns" transform="translate(783,735) scale(1.143,1.621)"/>
<use href="#ns" transform="translate(165,1167) scale(1.143,1.621)"/>
<use href="#ns" transform="translate(748,1150) scale(1.143,1.621)"/>
<use href="#ns" transform="translate(922,1150) scale(1.143,1.621)"/>
<use href="#ns" transform="translate(1322,1150) scale(1.143,1.621)"/>
<use href="#ns" transform="translate(1410,1150) scale(1.143,1.621)"/>
<use href="#ns" transform="translate(397,1343) scale(1.143,1.621) rotate(90)"/>
<use href="#ns" transform="translate(958,1352) scale(1.143,1.621) rotate(90)"/>
</g>
</svg>
</body></html>
